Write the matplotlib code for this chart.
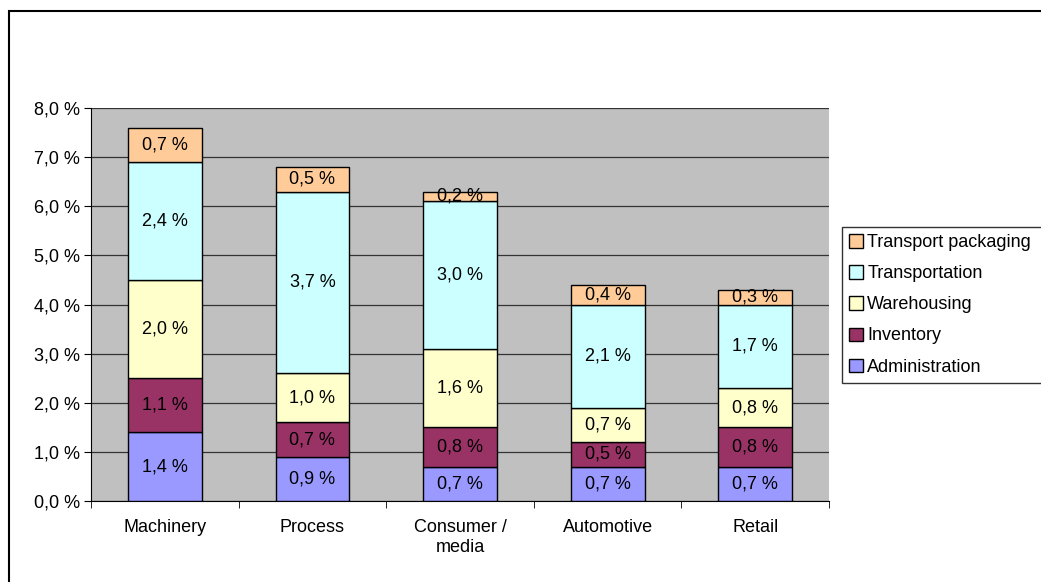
import matplotlib.pyplot as plt
import numpy as np
from matplotlib.patches import Rectangle

plt.rcParams['font.family'] = ['Liberation Sans', 'DejaVu Sans']

categories = ['Machinery', 'Process', 'Consumer /\nmedia', 'Automotive', 'Retail']
series = ['Administration', 'Inventory', 'Warehousing', 'Transportation', 'Transport packaging']
administration = [1.4, 0.9, 0.7, 0.7, 0.7]
inventory = [1.1, 0.7, 0.8, 0.5, 0.8]
warehousing = [2.0, 1.0, 1.6, 0.7, 0.8]
transportation = [2.4, 3.7, 3.0, 2.1, 1.7]
packaging = [0.7, 0.5, 0.2, 0.4, 0.3]
colors = ['#9999FF', '#993366', '#FFFFCC', '#CCFFFF', '#FFCC99']

fs = 13

fig = plt.figure(figsize=(10.41, 5.82), dpi=100)
ax = fig.add_axes([91/1041, 1 - 501/582, (829-91)/1041, (501-108)/582])
ax.set_facecolor('#C0C0C0')

x = np.arange(len(categories))
bottom = np.zeros(len(categories))
handles = []
for name, vals, c in zip(series, [administration, inventory, warehousing, transportation, packaging], colors):
    vals = np.array(vals)
    b = ax.bar(x, vals, 0.5, bottom=bottom, color=c, edgecolor='black', linewidth=1, label=name, zorder=3)
    handles.append(b)
    for xi, v, bt in zip(x, vals, bottom):
        ax.text(xi, bt + v / 2, f'{v:.1f} %'.replace('.', ','), ha='center', va='center',
                fontsize=fs, zorder=4)
    bottom += vals

ax.set_xlim(-0.5, 4.5)
ax.set_ylim(0, 8)
yt = np.arange(0, 8.1, 1.0)
ax.set_yticks(yt)
ax.set_yticklabels([f'{v:.1f} %'.replace('.', ',') for v in yt], fontsize=fs)
ax.yaxis.grid(True, color='#333333', linewidth=0.9, zorder=0)
ax.set_axisbelow(True)
ax.set_xticks(x)
ax.set_xticklabels(categories, fontsize=fs)
ax.set_xticks(np.arange(-0.5, 5, 1), minor=True)
ax.tick_params(axis='x', which='major', length=0, pad=13)
ax.tick_params(axis='x', which='minor', length=5, direction='out')
ax.tick_params(axis='y', length=5, direction='out', pad=3)
for s in ['top', 'right']:
    ax.spines[s].set_visible(False)

leg = fig.legend(handles[::-1], series[::-1], loc='upper left', mode='expand',
                 bbox_to_anchor=(842/1041, 1 - 227/582, 0.3, 0.0), fontsize=fs,
                 frameon=True, fancybox=False, edgecolor='black',
                 handlelength=0.75, handleheight=0.75, handletextpad=0.25,
                 borderpad=0.4, labelspacing=0.78, borderaxespad=0)
leg.get_frame().set_linewidth(1)

fig.patches.append(Rectangle((9/1041, -0.1), 1.2, 1.1 - 11/582, transform=fig.transFigure,
                             fill=False, edgecolor='black', linewidth=1.5))

fig.savefig('out.png', dpi=100)
